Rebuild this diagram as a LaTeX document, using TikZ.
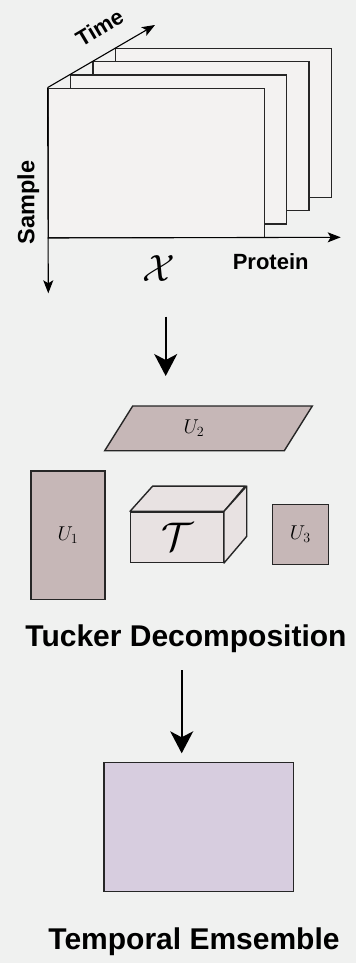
\RequirePackage{fix-cm}
\documentclass[tikz,border=0pt]{standalone}
\usepackage{fontspec}
\usetikzlibrary{arrows.meta}
\newfontfamily\labelfont{Liberation Sans}
\definecolor{bgcol}{HTML}{F0F1F0}
\definecolor{sheetcol}{HTML}{F3F2F1}
\definecolor{factcol}{HTML}{C6B7B7}
\definecolor{corecol}{HTML}{E8E2E2}
\definecolor{ensemcol}{HTML}{D7CDDF}

\begin{document}
\begin{tikzpicture}[x=1pt,y=-1pt,
  outline/.style={draw=black!85, line width=1.4pt},
  sheet/.style={outline, fill=sheetcol, minimum width=216pt, minimum height=149pt, inner sep=0pt},
  factor/.style={outline, fill=factcol, inner sep=0pt},
  axis/.style={black, line width=1.1pt, -{Stealth[length=13pt,width=10pt,inset=3pt]}},
  bigarrow/.style={black, line width=1.6pt, -{Stealth[length=22pt,width=23pt,inset=6pt]}},
  axislabel/.style={font=\labelfont\bfseries\fontsize{22}{24}\selectfont},
  title/.style={font=\labelfont\bfseries\fontsize{30}{36}\selectfont},
  mathlabel/.style={font=\fontsize{20}{22}\selectfont}]
\useasboundingbox (0,0) rectangle (356,963);
\fill[bgcol] (0,0) rectangle (356,963);
% tensor X: stacked slices, back to front
\foreach \k in {3,2,1,0}
  \node[sheet] (sheet\k) at (156.3+22.4*\k,162.8-13.3*\k) {};
\coordinate (corner) at (sheet0.north west);
\coordinate (origin) at (sheet0.south west);
\coordinate (timeend) at (155,25);
\coordinate (proteinend) at (340.7,237.3);
\coordinate (sampleend) at (48.3,293.3);
\draw[axis] (corner) -- (timeend);
\draw[axis] (origin) -- (proteinend);
\draw[axis] (corner) -- (sampleend);
\node[axislabel, rotate=30.7] (timelab) at (99.5,27.5) {Time};
\node[axislabel] (proteinlab) at (270.7,261.7) {Protein};
\node[axislabel, font=\labelfont\bfseries\fontsize{23.5}{26}\selectfont, rotate=90] (samplelab) at (28.3,202.3) {Sample};
\node[font=\fontsize{38}{40}\selectfont] (xlab) at (159.3,269) {$\mathcal{X}$};
\coordinate (arrowa) at (165.7,316.7);
\coordinate (arrowb) at (165.7,376);
\draw[bigarrow] (arrowa) -- (arrowb);
% Tucker factors and core
\draw[factor] (132.7,406) -- (312.3,406) -- (284.3,450.7) -- (104.7,450.7) -- cycle;
\node[mathlabel] (u2) at (194,428) {$U_2$};
\node[factor, minimum width=74pt, minimum height=128.3pt, mathlabel] (u1) at (68,535.2) {$U_1$};
\node[factor, minimum width=56pt, minimum height=60.4pt, mathlabel] (u3) at (300.3,534.5) {$U_3$};
\node[outline, fill=corecol, minimum width=92.6pt, minimum height=50.3pt, inner sep=0pt] (core) at (177,537.2) {};
\draw[outline, fill=corecol, line join=round] (core.north west) -- ++(22.7,-25.3) -- ++(92.6,0) -- (core.north east) -- cycle;
\draw[outline, fill=corecol, line join=round] (core.north east) -- ++(22.7,-25.3) -- ++(0,50.3) -- (core.south east) -- cycle;
\node[font=\fontsize{40}{42}\selectfont] (tlab) at (core.center) {$\mathcal{T}$};
\node[title] (tucker) at (186,638.3) {Tucker Decomposition};
\coordinate (arrowc) at (181.7,670);
\coordinate (arrowd) at (181.7,753.3);
\draw[bigarrow] (arrowc) -- (arrowd);
\node[outline, fill=ensemcol, minimum width=189.3pt, minimum height=129pt] (ensemble) at (198.7,827.2) {};
\node[title] (temporal) at (194,941.7) {Temporal Emsemble};
\end{tikzpicture}
\end{document}
